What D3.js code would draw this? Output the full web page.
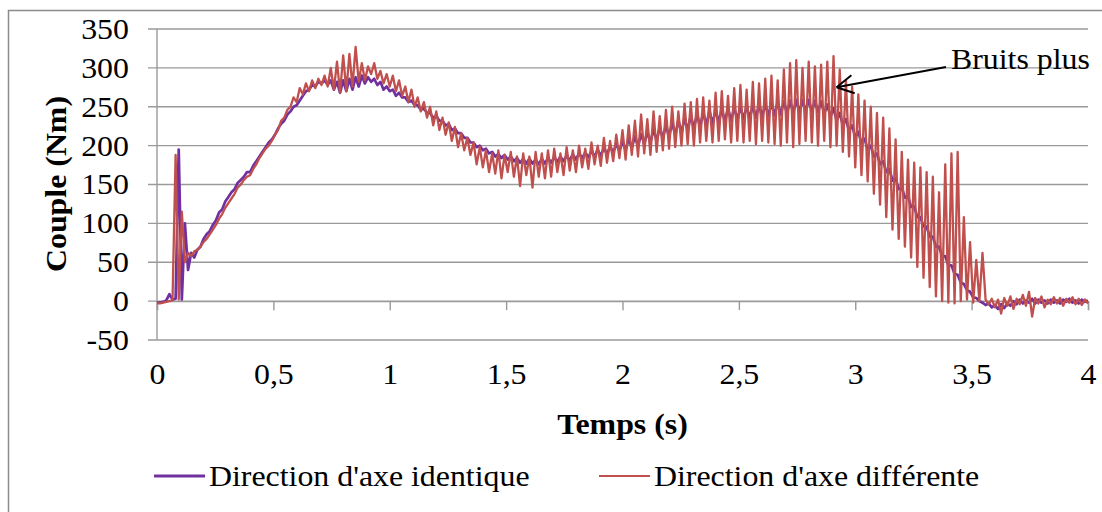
<!DOCTYPE html>
<html><head><meta charset="utf-8">
<script src="https://cdn.jsdelivr.net/npm/d3@7"></script>
<style>
html,body{margin:0;padding:0;background:#fff;}
svg{display:block;font-family:"Liberation Serif","Times New Roman",serif;}
</style></head>
<body>
<svg id="chart" width="1102" height="512"></svg>
<script>
// ---- data ----
const timeStart = 0;          // s
const timeStep = 4 / 300;     // sampling period of the recorded series (s)
const xTicks = [0, 0.5, 1, 1.5, 2, 2.5, 3, 3.5, 4];
const yTicks = [-50, 0, 50, 100, 150, 200, 250, 300, 350];
const seriesNames = ["Direction d'axe identique", "Direction d'axe différente"];
const xTitle = "Temps (s)";
const yTitle = "Couple (Nm)";
const noteText = "Bruits plus";

const identique = [
-2,-2,-1,1,9,2,3,195,2,100,40,62,56,66,70,
80,86,90,98,104,114,118,128,134,140,144,152,156,160,166,
166,174,180,186,192,198,204,208,214,222,228,232,240,244,250,
252,258,264,270,272,278,276,282,280,284,278,284,272,282,268,
284,270,286,272,288,276,290,280,288,282,286,278,282,272,276,
270,272,264,268,262,262,256,258,252,252,246,248,242,242,236,
238,232,232,226,228,220,222,216,216,210,210,204,204,198,200,
194,196,190,192,186,189,184,188,182,186,180,184,178,183,177,
183,177,182,176,183,177,184,178,185,179,186,180,187,181,189,
182,190,184,191,185,193,186,195,187,197,189,199,191,202,193,
205,194,209,197,212,199,215,202,218,204,221,206,224,209,227,
211,230,213,233,216,236,219,239,222,241,224,243,226,245,228,
246,230,247,231,248,232,249,233,250,234,251,235,252,236,253,
237,254,238,255,239,256,240,257,241,258,242,259,243,259,244,
259,244,258,243,257,241,253,237,248,232,242,226,234,219,226,
211,218,203,209,195,200,186,190,176,180,166,170,155,158,144,
146,133,135,121,122,108,108,96,96,83,83,70,70,58,58,
46,46,35,34,24,22,14,12,5,4,0,-2,-5,-3,-8,
-5,-10,-4,-9,-3,-6,0,-4,2,-3,1,-2,3,-3,2,
-2,1,-3,2,-2,1,-3,2,-1,3,-2,1,-3,2,-1,
1];

const differente = [
-3,-3,-2,-1,0,1,188,2,115,50,62,58,64,66,70,
76,80,86,92,98,106,112,120,126,132,138,146,150,156,160,
162,170,176,184,190,196,200,206,214,220,232,236,246,250,262,
256,274,266,280,270,284,274,286,278,290,276,300,272,308,268,
316,270,318,276,327,282,306,284,302,292,306,286,296,280,292,
276,290,270,284,264,276,256,272,250,262,244,256,236,250,226,
244,220,236,214,230,206,224,198,216,194,210,188,204,176,198,
172,194,166,190,164,194,158,188,166,192,160,186,148,190,162,
186,146,192,160,190,158,194,160,196,166,190,162,198,168,194,
166,200,172,196,170,204,176,200,174,210,178,206,180,214,184,
220,182,226,188,232,186,240,190,234,188,244,192,238,194,246,
196,250,198,244,200,254,202,256,200,260,204,262,206,258,204,
268,206,270,208,264,204,274,206,278,204,272,206,282,202,280,
206,286,204,290,202,284,200,298,204,306,198,310,202,300,206,
308,204,302,200,304,206,308,198,315,200,298,192,284,186,276,
172,266,162,258,154,250,138,242,124,236,108,222,92,208,80,
192,70,182,56,178,44,172,30,166,18,160,6,140,0,176,
-2,190,-3,192,0,108,2,76,-2,53,0,62,2,-4,3,
-8,2,-16,4,-6,6,-10,3,-4,8,-6,12,-20,4,-3,
6,-8,2,-4,5,-3,4,-6,3,-2,5,-4,3,-5,2,
-3];

// ---- layout ----
const svg = d3.select("#chart");
const plotLeft = 157, plotRight = 1088, plotTop = 29, plotBottom = 340;
const x = d3.scaleLinear().domain([0, 4]).range([plotLeft, plotRight]);
const y = d3.scaleLinear().domain([-50, 350]).range([plotBottom, plotTop]);
const fontSize = 29.5;
const stretch = 1.08;   // the original's text is slightly wider than it is tall
const gridColor = "#9a9a9a";
const colors = ["#7030A0", "#C0504D"];

function addText(tx, ty, str, opts = {}) {
  const t = svg.append("text")
    .attr("transform", `translate(${tx},${ty})${opts.rotate ? " rotate(" + opts.rotate + ")" : ""} scale(${stretch},1)`)
    .attr("font-size", fontSize).attr("fill", "#000")
    .attr("text-anchor", opts.anchor || "start")
    .text(str);
  if (opts.bold) t.attr("font-weight", "bold");
  return t;
}

// outer chart border
svg.append("rect").attr("x", 8.5).attr("y", 10.5).attr("width", 1110).attr("height", 520)
  .attr("fill", "none").attr("stroke", "#8c8c8c").attr("stroke-width", 1.5);

// horizontal gridlines (extending left as axis ticks)
svg.append("g").selectAll("line").data(yTicks).join("line")
  .attr("x1", plotLeft - 9).attr("x2", plotRight)
  .attr("y1", d => y(d)).attr("y2", d => y(d))
  .attr("stroke", gridColor).attr("stroke-width", 1.4);

// vertical axis line
svg.append("line").attr("x1", plotLeft).attr("x2", plotLeft)
  .attr("y1", y(350)).attr("y2", y(-50)).attr("stroke", gridColor).attr("stroke-width", 1.4);

// y axis labels
const yAxis = d3.axisLeft(y).tickValues(yTicks).tickSize(0).tickPadding(26).tickFormat(d => String(d));
const gy = svg.append("g").attr("transform", `translate(${plotLeft},0)`).call(yAxis);
gy.select(".domain").remove();
gy.selectAll("text").attr("font-size", fontSize).attr("fill", "#000")
  .attr("font-family", "Liberation Serif, Times New Roman, serif")
  .attr("transform", `scale(${stretch},1)`);

// x axis at value 0 with tick marks
const xAxis = d3.axisBottom(x).tickValues(xTicks).tickSize(9).tickFormat("");
const gx = svg.append("g").attr("transform", `translate(0,${y(0)})`).call(xAxis);
gx.select(".domain").attr("stroke", gridColor).attr("stroke-width", 1.4);
gx.selectAll(".tick line").attr("stroke", gridColor).attr("stroke-width", 1.4);

// x tick labels below the plot
const xLab = d3.axisBottom(x).tickValues(xTicks).tickSize(0).tickPadding(23)
  .tickFormat(d => String(d).replace(".", ","));
const gxl = svg.append("g").attr("transform", `translate(0,${plotBottom})`).call(xLab);
gxl.select(".domain").remove();
gxl.selectAll("text").attr("font-size", fontSize).attr("fill", "#000")
  .attr("font-family", "Liberation Serif, Times New Roman, serif")
  .attr("transform", `scale(${stretch},1)`);

// series lines
const line = d3.line().x((d, i) => x(timeStart + i * timeStep)).y(d => y(d));
[identique, differente].forEach((s, k) => {
  svg.append("path").datum(s).attr("d", line).attr("fill", "none")
    .attr("stroke", colors[k]).attr("stroke-width", k === 0 ? 2.7 : 2.3)
    .attr("stroke-linejoin", "round");
});

// axis titles
addText((plotLeft + plotRight) / 2, 434, xTitle, { anchor: "middle", bold: true });
addText(66, 184, yTitle, { anchor: "middle", bold: true, rotate: -90 });

// annotation with arrow
addText(951, 69, noteText);
const tip = [x(2.92), y(275)], tail = [x(3.39), y(301)];
svg.append("line").attr("x1", tail[0]).attr("y1", tail[1]).attr("x2", tip[0]).attr("y2", tip[1])
  .attr("stroke", "#000").attr("stroke-width", 2);
const ang = Math.atan2(tail[1] - tip[1], tail[0] - tip[0]);
[0.5, -0.5].forEach(a => {
  svg.append("line").attr("x1", tip[0]).attr("y1", tip[1])
    .attr("x2", tip[0] + 19 * Math.cos(ang + a)).attr("y2", tip[1] + 19 * Math.sin(ang + a))
    .attr("stroke", "#000").attr("stroke-width", 2);
});

// legend
const legendX = [154, 599];
seriesNames.forEach((n, k) => {
  const g = svg.append("g").attr("transform", `translate(${legendX[k]},476)`);
  g.append("line").attr("x1", 0).attr("x2", 51).attr("y1", 0).attr("y2", 0)
    .attr("stroke", colors[k]).attr("stroke-width", k === 0 ? 3.2 : 2.2);
  addText(legendX[k] + 55, 486, n);
});
</script>
</body></html>
